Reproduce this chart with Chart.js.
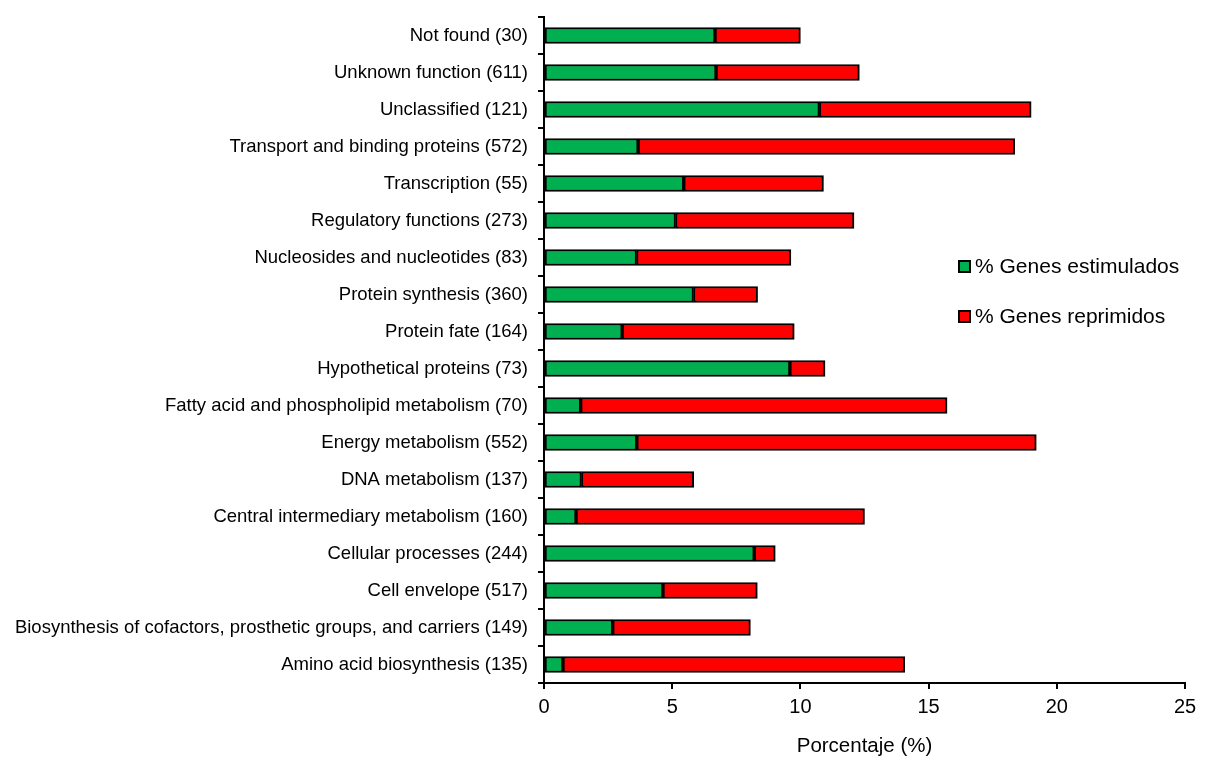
<!DOCTYPE html>
<html>
<head>
<meta charset="utf-8">
<script src="https://cdn.jsdelivr.net/npm/chart.js@4/dist/chart.umd.min.js"></script>
<style>
  html, body { margin: 0; padding: 0; background: #fff; }
  #wrap { width: 1206px; height: 763px; position: relative; }
</style>
</head>
<body>
<div id="wrap"><canvas id="c" width="1206" height="763"></canvas></div>
<script>
const categories = [
  "Not found (30)",
  "Unknown function (611)",
  "Unclassified (121)",
  "Transport and binding proteins (572)",
  "Transcription (55)",
  "Regulatory functions (273)",
  "Nucleosides and nucleotides (83)",
  "Protein synthesis (360)",
  "Protein fate (164)",
  "Hypothetical proteins (73)",
  "Fatty acid and phospholipid metabolism (70)",
  "Energy metabolism (552)",
  "DNA metabolism (137)",
  "Central intermediary metabolism (160)",
  "Cellular processes (244)",
  "Cell envelope (517)",
  "Biosynthesis of cofactors, prosthetic groups, and carriers (149)",
  "Amino acid biosynthesis (135)"
];
const estimulados = [6.67, 6.71, 10.74, 3.67, 5.45, 5.13, 3.61, 5.83, 3.05, 9.59, 1.43, 3.62, 1.46, 1.25, 8.20, 4.64, 2.68, 0.74];
const reprimidos  = [3.33, 5.59, 8.26, 14.69, 5.45, 6.96, 6.02, 2.50, 6.71, 1.37, 14.29, 15.58, 4.38, 11.25, 0.82, 3.68, 5.37, 13.33];
const seriesNames = ["% Genes estimulados", "% Genes reprimidos"];
const xTicks = [0, 5, 10, 15, 20, 25];
const xTitle = "Porcentaje (%)";

const FONT = "'Liberation Sans', Arial, sans-serif";
Chart.defaults.color = '#000';
Chart.defaults.font.family = FONT;

const legendPlugin = {
  id: 'customLegend',
  afterDraw(chart) {
    const ctx = chart.ctx;
    const ds = chart.data.datasets;
    const x0 = 959, ys = [266, 316];
    ctx.save();
    ctx.font = "21px " + FONT;
    ctx.textBaseline = 'middle';
    ctx.textAlign = 'left';
    ds.forEach((d, i) => {
      ctx.fillStyle = d.backgroundColor;
      ctx.fillRect(x0, ys[i] - 5, 11, 11);
      ctx.lineWidth = 2;
      ctx.strokeStyle = '#000';
      ctx.strokeRect(x0, ys[i] - 5, 11, 11);
      ctx.fillStyle = '#000';
      ctx.fillText(d.label, x0 + 16, ys[i] + 1);
    });
    ctx.restore();
  }
};

new Chart(document.getElementById('c'), {
  type: 'bar',
  data: {
    labels: categories,
    datasets: [
      { label: seriesNames[0], data: estimulados, backgroundColor: '#00B050', borderColor: '#000', borderWidth: 2, borderSkipped: false, barThickness: 16 },
      { label: seriesNames[1], data: reprimidos, backgroundColor: '#FF0000', borderColor: '#000', borderWidth: 2, borderSkipped: false, barThickness: 16 }
    ]
  },
  options: {
    indexAxis: 'y',
    responsive: false,
    animation: false,
    devicePixelRatio: 1,
    layout: { padding: { top: 17, right: 21, bottom: 0, left: 0 } },
    plugins: { legend: { display: false }, tooltip: { enabled: false } },
    scales: {
      x: {
        stacked: true,
        min: 0, max: 25,
        afterFit(s) { s.height = 80; s.paddingLeft = 0; s.paddingRight = 0; },
        afterBuildTicks(s) { s.ticks = xTicks.map(v => ({ value: v })); },
        ticks: { font: { size: 20 }, padding: 6, color: '#000', maxRotation: 0 },
        grid: { drawOnChartArea: false, drawTicks: true, tickLength: 6, color: '#000', lineWidth: 2 },
        border: { display: true, color: '#000', width: 2 },
        title: { display: true, text: xTitle, font: { size: 20.5 }, color: '#000', padding: { top: 0, bottom: 4 } }
      },
      y: {
        stacked: true,
        afterFit(s) { s.width = 544; s.paddingTop = 0; s.paddingBottom = 0; },
        ticks: { font: { size: 18.5 }, padding: 10, color: '#000', autoSkip: false },
        grid: { drawOnChartArea: false, drawTicks: true, tickLength: 6, color: '#000', lineWidth: 2, offset: true },
        border: { display: true, color: '#000', width: 2 }
      }
    }
  },
  plugins: [legendPlugin]
});
</script>
</body>
</html>
